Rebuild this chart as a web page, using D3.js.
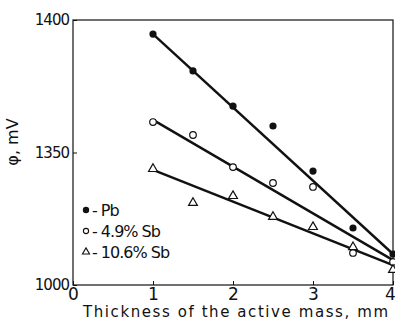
<!DOCTYPE html>
<html>
<head>
<meta charset="utf-8">
<script src="https://cdn.jsdelivr.net/npm/d3@7"></script>
<style>
  body { margin: 0; background: #fff; }
  text { font-family: "DejaVu Sans", sans-serif; fill: #111; }
</style>
</head>
<body>
<div id="chart"></div>
<script>
var thickness = [1, 1.5, 2, 2.5, 3, 3.5, 4];
var pb    = [1394.7, 1380.8, 1367.5, 1360.0, 1343.0, 1321.5, 1311.7];
var sb49  = [1361.5, 1356.6, 1344.5, 1338.5, 1337.0, 1312.1, 1308.7];
var sb106 = [1343.8, 1331.0, 1333.6, 1325.7, 1321.9, 1314.3, 1305.7];

// straight fitted lines, value at thickness 1 and 4
var fitX     = [1, 4];
var pbFit    = [1394.7, 1311.7];
var sb49Fit  = [1362.3, 1309.4];
var sb106Fit = [1343.4, 1307.5];

var xTicks = [0, 1, 2, 3, 4];
var yTicks = [1300, 1350, 1400];
var yTickLabels = ["1000", "1350", "1400"];   // printed as in the original
var legendLabels = ["- Pb", "- 4.9% Sb", "- 10.6% Sb"];

var width = 395, height = 321;
var margin = {left: 73, right: 2, top: 20, bottom: 36};

var svg = d3.select("#chart").append("svg")
    .attr("width", width)
    .attr("height", height);

var x = d3.scaleLinear().domain([0, 4]).range([margin.left, width - margin.right]);
var y = d3.scaleLinear().domain([1300, 1400]).range([height - margin.bottom, margin.top]);

// frame
svg.append("rect")
    .attr("x", x(0)).attr("y", y(1400))
    .attr("width", x(4) - x(0)).attr("height", y(1300) - y(1400))
    .attr("fill", "none").attr("stroke", "#111").attr("stroke-width", 1.2);

var xAxis = svg.append("g")
    .attr("transform", "translate(0," + y(1300) + ")")
    .call(d3.axisBottom(x).tickValues(xTicks).tickSize(-4).tickPadding(3).tickFormat(d3.format("d")));
xAxis.select(".domain").remove();
xAxis.selectAll("text").attr("font-size", "17px").attr("dy", "0.72em")
    .attr("dx", function(d){ return d === 4 ? -3 : 0; });

var yAxis = svg.append("g")
    .attr("transform", "translate(" + x(0) + ",0)")
    .call(d3.axisLeft(y).tickValues(yTicks).tickSize(-4).tickPadding(4)
        .tickFormat(function(d, i){ return yTickLabels[i]; }));
yAxis.select(".domain").remove();
yAxis.selectAll("text").attr("font-size", "15px").attr("letter-spacing", "-1px");
svg.selectAll(".tick line").attr("stroke", "#111").attr("stroke-width", 1);

// axis titles
svg.append("text")
    .attr("x", 83).attr("y", 317)
    .attr("font-size", "15px")
    .attr("textLength", 305)
    .attr("lengthAdjust", "spacing")
    .text("Thickness of the active mass, mm");

svg.append("text")
    .attr("transform", "translate(18,142) rotate(-90)")
    .attr("text-anchor", "middle")
    .attr("font-size", "16px")
    .text("\u03C6, mV");

// fitted lines
var line = d3.line().x(function(d){ return x(d[0]); }).y(function(d){ return y(d[1]); });
[pbFit, sb49Fit, sb106Fit].forEach(function(f){
    svg.append("path")
        .datum(fitX.map(function(t, i){ return [t, f[i]]; }))
        .attr("d", line)
        .attr("fill", "none")
        .attr("stroke", "#111")
        .attr("stroke-width", 2.4);
});

var tri = d3.symbol().type(d3.symbolTriangle).size(34);

// points
svg.selectAll(".pb").data(pb).enter().append("circle")
    .attr("cx", function(d, i){ return x(thickness[i]); })
    .attr("cy", function(d){ return y(d); })
    .attr("r", 3.6)
    .attr("fill", "#111");

svg.selectAll(".sb49").data(sb49).enter().append("circle")
    .attr("cx", function(d, i){ return x(thickness[i]); })
    .attr("cy", function(d){ return y(d); })
    .attr("r", 3.3)
    .attr("fill", "#fff")
    .attr("stroke", "#111").attr("stroke-width", 1.2);

svg.selectAll(".sb106").data(sb106).enter().append("path")
    .attr("d", tri)
    .attr("transform", function(d, i){ return "translate(" + x(thickness[i]) + "," + y(d) + ")"; })
    .attr("fill", "#fff")
    .attr("stroke", "#111").attr("stroke-width", 1.2);

// legend
var lg = svg.append("g").attr("transform", "translate(86,210)");
lg.append("circle").attr("cx", 0).attr("cy", 0).attr("r", 3.2).attr("fill", "#111");
lg.append("circle").attr("cx", 0).attr("cy", 21).attr("r", 2.6)
    .attr("fill", "#fff").attr("stroke", "#111").attr("stroke-width", 1.1);
lg.append("path").attr("d", d3.symbol().type(d3.symbolTriangle).size(22))
    .attr("transform", "translate(0,42)")
    .attr("fill", "#fff").attr("stroke", "#111").attr("stroke-width", 1.1);
lg.selectAll(".lt").data(legendLabels).enter().append("text")
    .attr("x", 6)
    .attr("y", function(d, i){ return i * 21 + 6; })
    .attr("font-size", "16px")
    .attr("letter-spacing", "-1px")
    .text(function(d){ return d; });
</script>
</body>
</html>
